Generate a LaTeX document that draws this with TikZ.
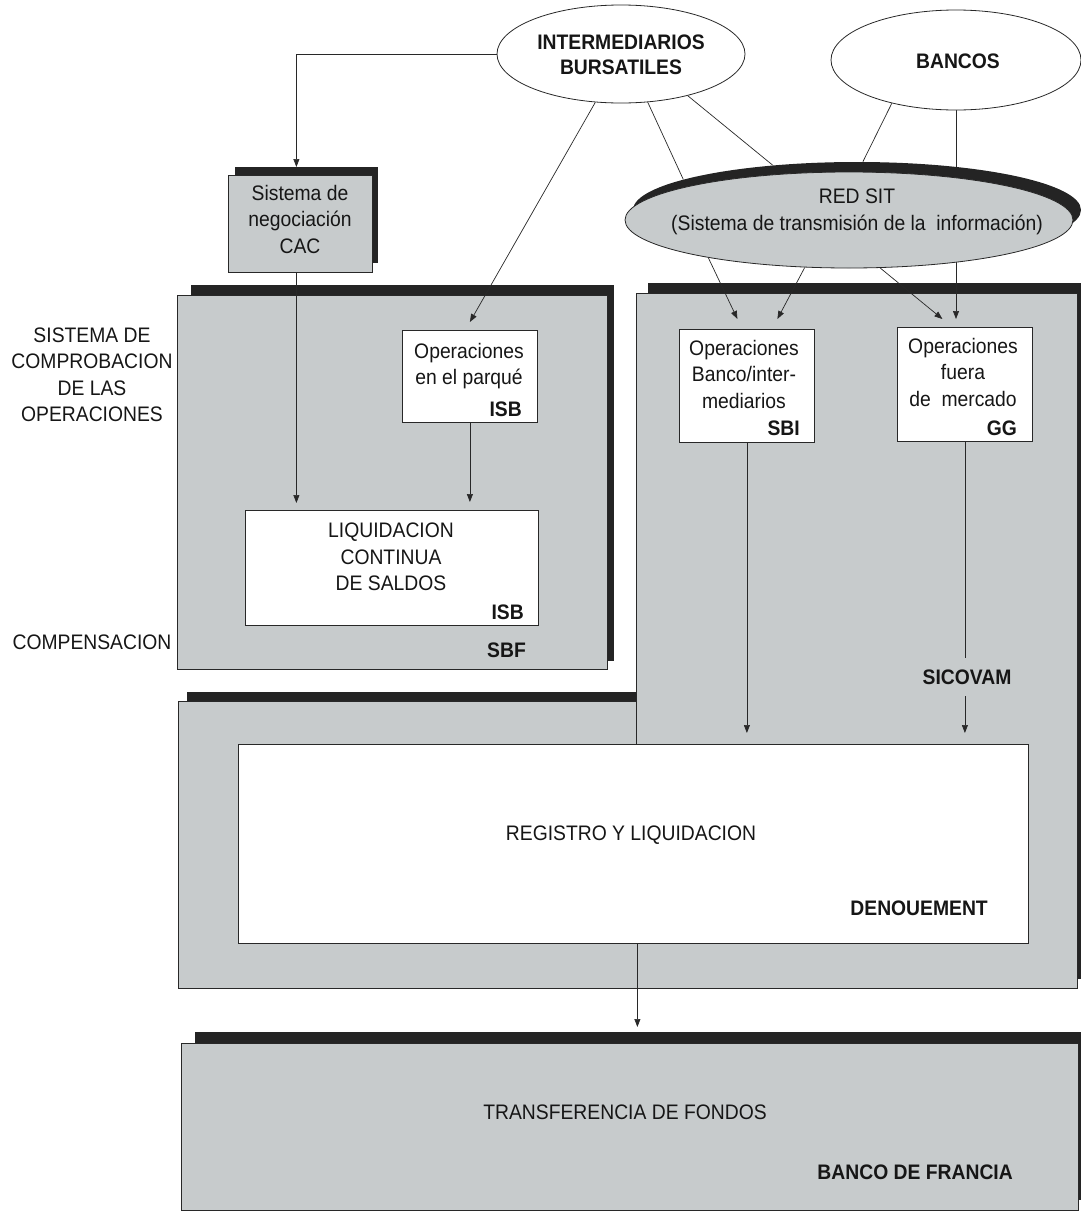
\documentclass[tikz,border=0pt]{standalone}
\usepackage{fontspec}
\setmainfont{Liberation Sans}[FakeStretch=0.92]
\usetikzlibrary{shapes.geometric,arrows.meta,calc}
\definecolor{panelc}{RGB}{199,203,204}
\definecolor{shadc}{RGB}{36,36,36}
\definecolor{inkc}{RGB}{40,40,40}
\definecolor{textc}{RGB}{22,22,22}
\pgfdeclarelayer{fg}
\pgfsetlayers{main,fg}
\begin{document}
\begin{tikzpicture}[x=1pt,y=-1pt,
  every node/.style={font=\fontsize{21}{26.5}\selectfont, text=textc},
  panel/.style={fill=panelc, draw=inkc, line width=0.8pt, inner sep=0pt, anchor=north west},
  wbox/.style={fill=white, draw=inkc, line width=0.8pt, inner sep=0pt, anchor=north west},
  shad/.style={fill=shadc},
  ell/.style={ellipse, draw=inkc, line width=0.8pt, inner sep=0pt},
  conn/.style={draw=inkc, line width=0.7pt},
  arr/.style={conn, -{Triangle[length=8pt,width=6pt]}},
  lbl/.style={align=center, inner sep=0pt},
  bftext/.style={align=center, inner sep=0pt, font=\fontsize{21}{25}\selectfont\bfseries},
  code/.style={font=\fontsize{21}{26.5}\selectfont\bfseries, anchor=east, inner sep=0pt},
]
\useasboundingbox (0,0) rectangle (1081,1216);

% ---------- ellipses (front layer) ----------
\begin{pgfonlayer}{fg}
\node[ell, fill=white, minimum width=248pt, minimum height=98pt] (int) at (621,54) {};
\node[bftext] (intT) at (621,55) {INTERMEDIARIOS\\BURSATILES};
\node[ell, fill=white, minimum width=250pt, minimum height=100pt] (bancos) at (956,60) {};
\node[bftext] (bancosT) at (958,61) {BANCOS};
\node[ell, draw=none, fill=shadc, minimum width=448pt, minimum height=96pt] (redsh) at (857,210) {};
\node[ell, fill=panelc, minimum width=448pt, minimum height=96pt] (red) at (849,220) {};
\node[lbl] (redT) at (857,212) {RED SIT\\(Sistema de transmisión de la\ \ información)};
\end{pgfonlayer}

% ---------- panels ----------
\fill[shad] (195,1032) rectangle (1090,1200);
\node[panel, minimum width=897pt, minimum height=167pt] (bot) at (181,1043) {};

\fill[shad] (187,692) rectangle (1082,979);
\node[panel, minimum width=899pt, minimum height=287pt] (mid) at (178,701) {};

\fill[shad] (648,283) rectangle (1082,735);
\node[panel, draw=none, minimum width=441pt, minimum height=695pt] (rp) at (636,293) {};
\draw[conn, line width=0.8pt] (rp.south west |- 0,744) -- (rp.north west) -- (rp.north east) -- (rp.south east) -- (rp.south west);

\fill[shad] (191,285) rectangle (614,661);
\node[panel, minimum width=430pt, minimum height=374pt] (lp) at (177,295) {};

\fill[shad] (235,167) rectangle (378,263);
\node[panel, minimum width=144pt, minimum height=97pt] (cac) at (228,175) {};
\node[lbl] (cacT) at (300,219) {Sistema de\\negociación\\CAC};

% ---------- white boxes ----------
\node[wbox, minimum width=135pt, minimum height=92pt] (parq) at (402,330) {};
\node[lbl] (parqT) at (469,366) {Operaciones\\en el parqué};
\node[code] (isb1) at (522,409) {ISB};

\node[wbox, minimum width=293pt, minimum height=115pt] (liq) at (245,510) {};
\node[lbl] (liqT) at (391,557) {LIQUIDACION\\CONTINUA\\DE SALDOS};
\node[code] (isb2) at (524,612) {ISB};
\node[code] (sbf) at (526,650) {SBF};

\node[wbox, minimum width=135pt, minimum height=113pt] (sbi) at (679,329) {};
\node[lbl] (sbiT) at (744,374) {Operaciones\\Banco/inter-\\mediarios};
\node[code] (sbiC) at (800,428) {SBI};

\node[wbox, minimum width=135pt, minimum height=114pt] (gg) at (897,327) {};
\node[lbl] (ggT) at (963,372) {Operaciones\\fuera\\de\ \ mercado};
\node[code] (ggC) at (1017,428) {GG};

\node[wbox, minimum width=790pt, minimum height=199pt] (reg) at (238,744) {};
\node (regT) at (631,835) {REGISTRO Y LIQUIDACION};
\node[code] (den) at (988,908) {DENOUEMENT};

\node (botT) at (625,1112) {TRANSFERENCIA DE FONDOS};
\node[code] (bdf) at (1013,1172) {BANCO DE FRANCIA};

% ---------- side labels ----------
\node[lbl] (scomp) at (92,375) {SISTEMA DE\\COMPROBACION\\DE LAS\\OPERACIONES};
\node (comp) at (92,642) {COMPENSACION};

% ---------- connectors ----------
\draw[arr] (int.west) -| ($(cac.north)+(-4,-8)$);
\draw[arr] ($(cac.south)+(-4,0)$) -- ($(cac.south |- liq.north)+(-4,-7)$);
\draw[arr] (int.242) -- ($(parq.north)+(0,-8)$);
\draw[arr] (parq.south) -- ($(parq.south |- liq.north)+(0,-8)$);

\draw[conn] (int.299) -- (redsh.170.4);
\draw[conn] (int.328) -- (redsh.152.6);
\draw[conn] (bancos.214) -- (redsh.83.9);

\draw[arr] (red.195.5) -- ($(sbi.north)+(-9.5,-10)$);
\draw[arr] (red.227.6) -- ($(sbi.north)+(30.5,-10)$);
\draw[arr] (red.303.1) -- ($(gg.north)+(-22.5,-8)$);
\draw[arr] (bancos.south) -- ($(bancos.south |- gg.north)+(0,-8)$);

\draw[arr] (sbi.south) -- ($(sbi.south |- reg.north)+(0,-11)$);
\draw[arr] (gg.south) -- ($(gg.south |- reg.north)+(0,-11)$);
\node[code, anchor=center, fill=panelc, inner xsep=3pt, inner ysep=12pt] (sicovam) at (967,677) {SICOVAM};
\draw[arr] ($(reg.south)+(4,0)$) -- ($(reg.south |- bot.north)+(4,-16)$);
\end{tikzpicture}
\end{document}
